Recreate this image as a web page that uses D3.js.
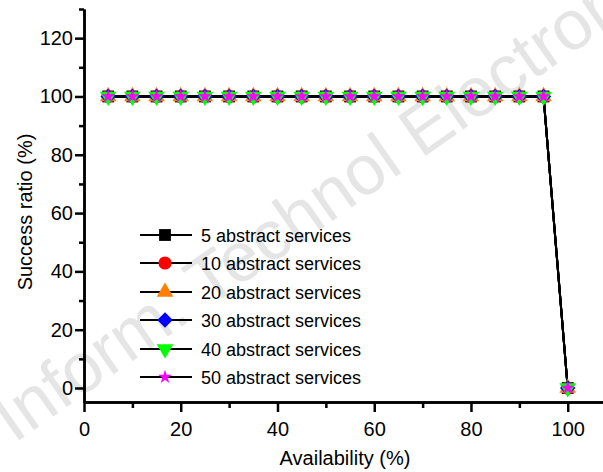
<!DOCTYPE html>
<html lang="en">
<head>
    <meta charset="UTF-8">
    <title>Success ratio vs availability</title>
    <script src="https://d3js.org/d3.v7.min.js"></script>
    <style>
        body { margin: 0; background: #fff; font-family: "Liberation Sans", Arial, sans-serif; }
        svg { display: block; }
    </style>
</head>
<body>
    <div id="chart"></div>
    <script>
        // Data
        const availability = [5, 10, 15, 20, 25, 30, 35, 40, 45, 50, 55, 60, 65, 70, 75, 80, 85, 90, 95, 100];
        const seriesNames = ["5 abstract services", "10 abstract services", "20 abstract services",
                             "30 abstract services", "40 abstract services", "50 abstract services"];
        const ratio5  = [100, 100, 100, 100, 100, 100, 100, 100, 100, 100, 100, 100, 100, 100, 100, 100, 100, 100, 100, 0];
        const ratio10 = [100, 100, 100, 100, 100, 100, 100, 100, 100, 100, 100, 100, 100, 100, 100, 100, 100, 100, 100, 0];
        const ratio20 = [100, 100, 100, 100, 100, 100, 100, 100, 100, 100, 100, 100, 100, 100, 100, 100, 100, 100, 100, 0];
        const ratio30 = [100, 100, 100, 100, 100, 100, 100, 100, 100, 100, 100, 100, 100, 100, 100, 100, 100, 100, 100, 0];
        const ratio40 = [100, 100, 100, 100, 100, 100, 100, 100, 100, 100, 100, 100, 100, 100, 100, 100, 100, 100, 100, 0];
        const ratio50 = [100, 100, 100, 100, 100, 100, 100, 100, 100, 100, 100, 100, 100, 100, 100, 100, 100, 100, 100, 0];
        const xTicks = [0, 20, 40, 60, 80, 100];
        const yTicks = [0, 20, 40, 60, 80, 100, 120];

        const W = 603, H = 472;
        const x = d3.scaleLinear().domain([0, 107.5]).range([84, 604]);
        const y = d3.scaleLinear().domain([-4.8, 130]).range([402, 9]);

        const svg = d3.select("#chart").append("svg")
            .attr("width", W)
            .attr("height", H);

        // faint watermark across the plot
        svg.append("text")
            .attr("transform", "translate(14,444) rotate(-35)")
            .attr("font-size", 70)
            .attr("fill", "#e5e5e5")
            .text("Inform. Technol Electron");

        // marker styles per series
        const styles = [
            { sym: d3.symbolSquare,   size: 140, rot: 0,   fill: "#000000" },
            { sym: d3.symbolCircle,   size: 135, rot: 0,   fill: "#ff0000" },
            { sym: d3.symbolTriangle, size: 120, rot: 0,   fill: "#ff8000" },
            { sym: d3.symbolSquare,   size: 120, rot: 45,  fill: "#0000ff" },
            { sym: d3.symbolTriangle, size: 120, rot: 180, fill: "#00ff00" },
            { sym: d3.symbolStar,     size: 60,  rot: 0,   fill: "#ff00ff" }
        ];
        const allSeries = [ratio5, ratio10, ratio20, ratio30, ratio40, ratio50];

        // axes
        const xAxis = d3.axisBottom(x).tickValues(xTicks).tickSize(10).tickPadding(10).tickSizeOuter(0);
        const xMinor = d3.axisBottom(x).tickValues([10, 30, 50, 70, 90]).tickSize(6).tickFormat("").tickSizeOuter(0);
        const yAxis = d3.axisLeft(y).tickValues(yTicks).tickSize(9).tickPadding(2).tickSizeOuter(0);
        const yMinor = d3.axisLeft(y).tickValues([10, 30, 50, 70, 90, 110, 130]).tickSize(5).tickFormat("").tickSizeOuter(0);

        function styleAxis(g) {
            g.selectAll("path").attr("stroke", "#000").attr("stroke-width", 2.5);
            g.selectAll("line").attr("stroke", "#000").attr("stroke-width", 2.5);
            g.selectAll("text").attr("font-size", 20).attr("fill", "#000")
                .attr("font-family", "'Liberation Sans', Arial, sans-serif");
        }

        svg.append("g").attr("transform", "translate(0,402)").call(xMinor).call(styleAxis);
        svg.append("g").attr("transform", "translate(0,402)").call(xAxis).call(styleAxis);
        svg.append("g").attr("transform", "translate(84,0)").call(yMinor).call(styleAxis);
        svg.append("g").attr("transform", "translate(84,0)").call(yAxis).call(styleAxis);

        // axis titles
        svg.append("text")
            .attr("x", 345).attr("y", 465)
            .attr("text-anchor", "middle")
            .attr("font-size", 20)
            .text("Availability (%)");
        svg.append("text")
            .attr("transform", "translate(32,212) rotate(-90)")
            .attr("text-anchor", "middle")
            .attr("font-size", 20)
            .text("Success ratio (%)");

        // lines
        const line = d3.line().x((d, i) => x(availability[i])).y(d => y(d));
        allSeries.forEach(s => {
            svg.append("path")
                .datum(s)
                .attr("d", line)
                .attr("fill", "none")
                .attr("stroke", "#000")
                .attr("stroke-width", 2);
        });

        // markers
        allSeries.forEach((s, k) => {
            const st = styles[k];
            svg.append("g").selectAll("path")
                .data(s)
                .join("path")
                .attr("d", d3.symbol().type(st.sym).size(st.size))
                .attr("transform", (d, i) => `translate(${x(availability[i])},${y(d)}) rotate(${st.rot})`)
                .attr("fill", st.fill);
        });

        // legend
        const legendY = [235, 263, 292, 320, 349, 377];
        const legend = svg.append("g");
        seriesNames.forEach((name, k) => {
            const st = styles[k];
            const g = legend.append("g").attr("transform", `translate(0,${legendY[k]})`);
            g.append("line").attr("x1", 140).attr("x2", 192).attr("y1", 0).attr("y2", 0)
                .attr("stroke", "#000").attr("stroke-width", 2);
            g.append("path")
                .attr("d", d3.symbol().type(st.sym).size(st.size))
                .attr("transform", `translate(165,0) rotate(${st.rot})`)
                .attr("fill", st.fill);
            g.append("text")
                .attr("x", 201).attr("y", 6.5)
                .attr("font-size", 18)
                .text(name);
        });
    </script>
</body>
</html>
